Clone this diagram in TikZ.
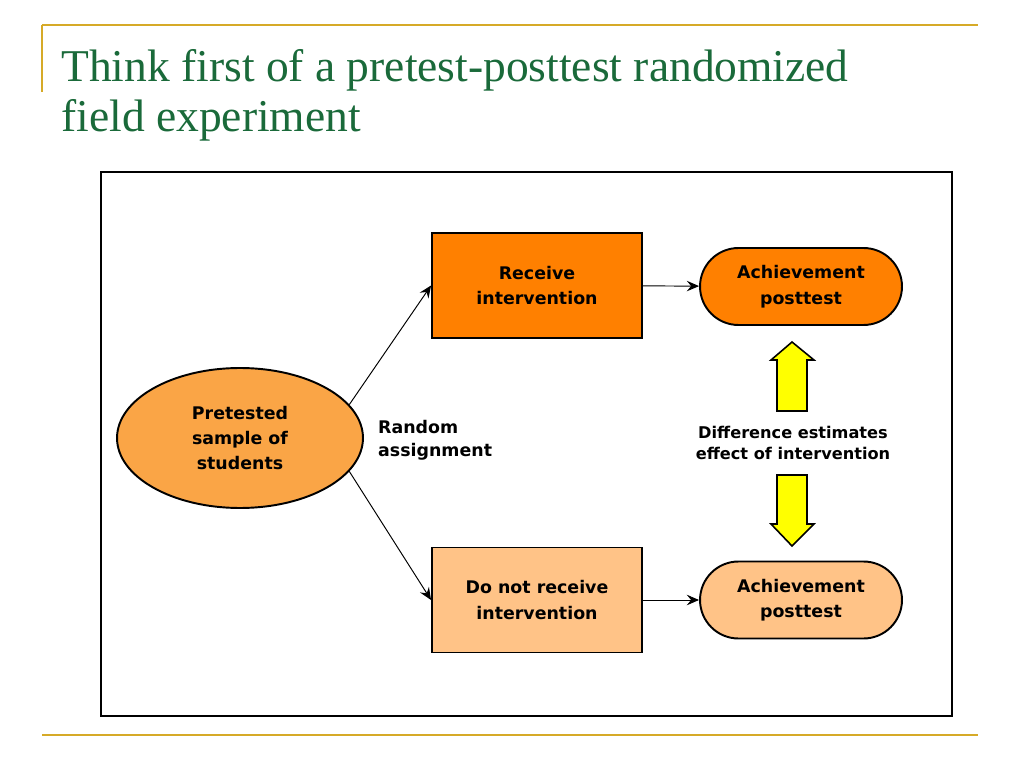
\documentclass[tikz,border=0pt]{standalone}
\usepackage{fontspec}
\setmainfont{Liberation Serif}
\newfontfamily\diagfont{DejaVu Sans}
\usetikzlibrary{arrows.meta,positioning,shapes}

\definecolor{titlegreen}{RGB}{26,106,58}
\definecolor{slidegold}{RGB}{214,170,40}
\definecolor{darkorange}{RGB}{255,128,0}
\definecolor{midorange}{RGB}{250,165,70}
\definecolor{paleorange}{RGB}{255,195,135}
\definecolor{arrowyellow}{RGB}{255,255,0}

\tikzset{
  box/.style={draw, line width=1.1pt, minimum width=4.2cm, minimum height=2.1cm, inner sep=0pt,
    align=center, font=\diagfont\bfseries\fontsize{9.9}{14.5}\selectfont},
  posttest/.style={box, rounded corners=0.77cm, minimum width=4.04cm, minimum height=1.54cm},
  link/.style={-{Stealth[length=7pt,width=6pt,inset=2.5pt]}, line width=0.55pt},
  bigarrow/.style={draw, line width=0.9pt, fill=arrowyellow, line join=miter},
  caption/.style={align=left, font=\diagfont\bfseries\fontsize{9.9}{13}\selectfont}
}

\begin{document}
\begin{tikzpicture}[x=0.02cm, y=0.02cm]
\useasboundingbox (0,0) rectangle (1024,768);
\fill[white] (0,0) rectangle (1024,768);
\draw[slidegold, line width=1.2pt] (42,743) -- (978,743);
\draw[slidegold, line width=0.9pt] (42,743) -- (42,676);
\draw[slidegold, line width=0.9pt] (42,33) -- (978,33);
\node[anchor=base west, inner sep=0pt, text=titlegreen, font=\fontsize{25.9}{28.5}\selectfont] (titleA) at (61,686) {Think first of a pretest-posttest randomized};
\node[anchor=base west, inner sep=0pt, text=titlegreen, font=\fontsize{25.9}{28.5}\selectfont] (titleB) at ([yshift=-1cm]titleA.base west) {field experiment};
\draw[line width=1.1pt] (101,52) rectangle (952,596);
\node[ellipse, box, fill=midorange, minimum width=4.92cm, minimum height=2.8cm] (sample) at (240,330) {Pretested\\sample of\\students};
\node[box, fill=darkorange] (recv) at (537,482.5) {Receive\\intervention};
\node[box, fill=paleorange] (norecv) at (537,168) {Do not receive\\intervention};
\node[posttest, fill=darkorange] (post1) at (801,481.5) {Achievement\\posttest};
\node[posttest, fill=paleorange] (post2) at (801,168) {Achievement\\posttest};
\node[caption, anchor=west] (assign) at (372,328) {Random\\assignment};
\node[caption, align=center, font=\diagfont\bfseries\fontsize{9.2}{12}\selectfont] (diff) at (793,325) {Difference estimates\\effect of intervention};
\draw[link] (sample.17) -- (recv.west);
\draw[link] (sample.-17) -- (norecv.west);
\draw[link] (recv) -- (post1);
\draw[link] (norecv) -- (post2);
\draw[bigarrow] (777,357) -- (777,408) -- (771,408) -- (792,426) -- (814,408) -- (807,408) -- (807,357) -- cycle;
\draw[bigarrow] (777,293) -- (777,244) -- (771,244) -- (792,222) -- (814,244) -- (807,244) -- (807,293) -- cycle;
\end{tikzpicture}
\end{document}
